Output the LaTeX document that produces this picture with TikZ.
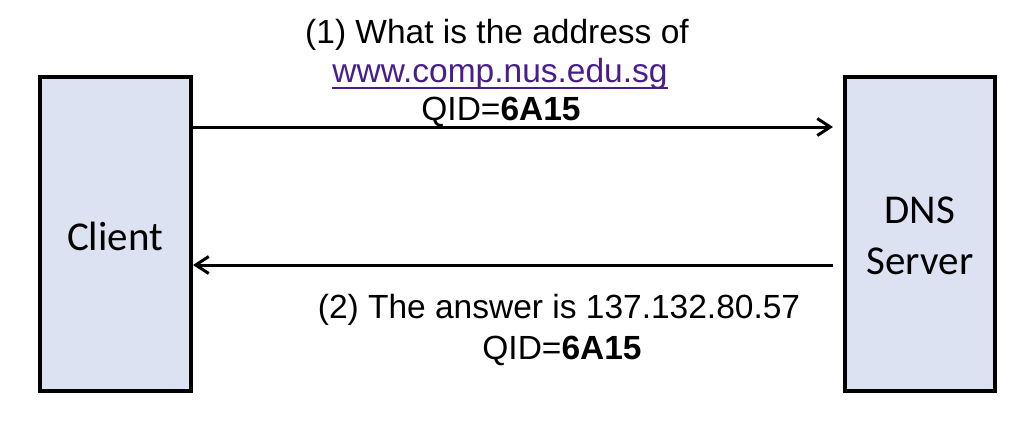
\documentclass[tikz,border=0pt]{standalone}
\usepackage{fontspec}
\setmainfont{Liberation Sans}
\newfontfamily\calibrifont{Carlito}
\usetikzlibrary{arrows.meta}
\definecolor{boxfill}{RGB}{220,226,241}
\definecolor{linkcol}{RGB}{72,30,140}
\tikzset{
  hostbox/.style={draw=black, line width=3.8pt, fill=boxfill},
  msg/.style={font=\fontsize{33.5}{40}\selectfont, inner sep=0pt, anchor=base},
  hostlabel/.style={font=\calibrifont\fontsize{41}{51}\selectfont, align=center, inner sep=0pt},
  msgarrow/.style={line width=3pt, -{Straight Barb[length=13pt,width=17pt,line width=3pt]}}
}
\begin{document}
\begin{tikzpicture}[x=1pt,y=-1pt]
\useasboundingbox (0,0) rectangle (1036,442);
% hosts
\draw[hostbox] (40,77) rectangle (191,391);
\draw[hostbox] (845,77) rectangle (995,391);
\coordinate (clientE) at (193,127);
\coordinate (dnsW) at (843,127);
\coordinate (clientE2) at (193,265);
\coordinate (dnsW2) at (843,265);
\node[hostlabel] (client) at (115,236) {Client};
\node[hostlabel] (dns) at (920,236) {DNS\\Server};
% query text
\node[msg] (q1) at (497,43) {(1) What is the address of};
\node[msg, text=linkcol] (q2) at (500,82) {www.comp.nus.edu.sg};
\draw[linkcol, line width=2pt] ([yshift=-5.5]q2.base west) -- ([yshift=-5.5]q2.base east);
\node[msg] (q3) at (501,120) {QID=\textbf{6A15}};
% answer text
\node[msg] (a1) at (559,318) {(2) The answer is 137.132.80.57};
\node[msg] (a2) at (562,359) {QID=\textbf{6A15}};
% arrows
\draw[msgarrow, shorten >=10pt] (clientE) -- (dnsW);
\draw[msgarrow, shorten <=10pt] (dnsW2) -- (clientE2);
\end{tikzpicture}
\end{document}
